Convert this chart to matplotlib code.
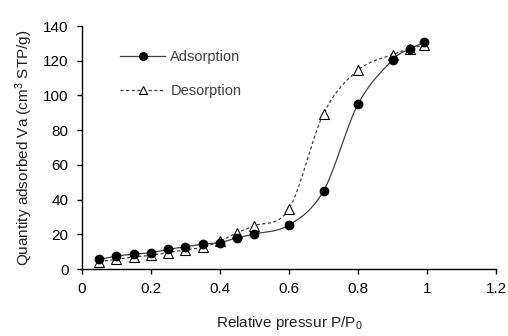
import numpy as np
import matplotlib
matplotlib.use("Agg")
import matplotlib.pyplot as plt

plt.rcParams['font.family'] = ['Liberation Sans', 'DejaVu Sans']
plt.rcParams['mathtext.default'] = 'regular'

pressure = [0.05, 0.1, 0.15, 0.2, 0.25, 0.3, 0.35, 0.4, 0.45, 0.5, 0.6, 0.7, 0.8, 0.9, 0.95, 0.99]
adsorption = [5.5, 7.5, 8.5, 9.4, 11.3, 12.8, 14.3, 15.2, 18, 20.2, 25.3, 45, 95, 120.4, 126.6, 130.6]
desorption = [4.2, 5.5, 7, 7.8, 9.5, 11, 12.5, 16, 21, 25, 34.6, 89.5, 114.6, 123.5, 127, 129]


def smooth(x, y, n=20):
    x = np.asarray(x, float)
    y = np.asarray(y, float)
    px = np.concatenate([[2 * x[0] - x[1]], x, [2 * x[-1] - x[-2]]])
    py = np.concatenate([[2 * y[0] - y[1]], y, [2 * y[-1] - y[-2]]])
    xs, ys = [], []
    t = np.linspace(0, 1, n)
    for i in range(1, len(px) - 2):
        p0, p1, p2, p3 = [np.array([px[j], py[j]]) for j in range(i - 1, i + 3)]
        b1 = p1 + (p2 - p0) / 6
        b2 = p2 - (p3 - p1) / 6
        pts = ((1 - t) ** 3)[:, None] * p1 + (3 * (1 - t) ** 2 * t)[:, None] * b1 \
            + (3 * (1 - t) * t ** 2)[:, None] * b2 + (t ** 3)[:, None] * p2
        xs.extend(pts[:, 0])
        ys.extend(pts[:, 1])
    return np.array(xs), np.array(ys)


fig = plt.figure(figsize=(5.08, 3.36), dpi=100)
ax = fig.add_axes([0.1614, 0.1994, 0.815, 0.7232])

lc = '#404040'
sx, sy = smooth(pressure, adsorption)
ax.plot(sx, sy, color=lc, lw=0.9, zorder=2)
dx, dy = smooth(pressure, desorption)
ax.plot(dx, dy, color=lc, lw=0.9, ls=(0, (2.5, 2)), zorder=2)
ax.plot(pressure, desorption, ls='none', marker='^', ms=6.5, mfc='white', mec='black', mew=0.8, zorder=3)
ax.plot(pressure, adsorption, ls='none', marker='o', ms=6, mfc='black', mec='black', zorder=4)

# legend handles
h1, = ax.plot([], [], color=lc, lw=0.9, marker='o', ms=5.5, mfc='black', mec='black')
h2, = ax.plot([], [], color=lc, lw=0.9, ls=(0, (2.5, 2)), marker='^', ms=5.5, mfc='white', mec='black', mew=0.8)
leg = ax.legend([h1, h2], ['Adsorption', 'Desorption'], loc='upper left',
                bbox_to_anchor=(0.06, 0.955), frameon=False, fontsize=10.5,
                handlelength=3.1, handletextpad=0.35, labelspacing=1.35)
for t in leg.get_texts():
    t.set_color('#404040')

ax.set_xlim(0, 1.2)
ax.set_ylim(0, 140)
ax.set_xticks([0, 0.2, 0.4, 0.6, 0.8, 1.0, 1.2])
ax.set_xticklabels(['0', '0.2', '0.4', '0.6', '0.8', '1', '1.2'])
ax.set_yticks(range(0, 141, 20))
ax.spines['top'].set_visible(False)
ax.spines['right'].set_visible(False)
for s in ['left', 'bottom']:
    ax.spines[s].set_color('black')
    ax.spines[s].set_linewidth(1.0)
ax.tick_params(direction='out', length=3.6, width=1.0, labelsize=11, colors='black')
ax.tick_params(axis='x', pad=6)
ax.tick_params(axis='y', pad=6)
ax.set_xlabel('Relative pressur P/P$_0$', fontsize=11, labelpad=13, color='#202020')
ax.set_ylabel('Quantity adsorbed Va (cm$^3$ STP/g)', fontsize=11, labelpad=6, color='#202020')

fig.savefig('out.png', dpi=100)
